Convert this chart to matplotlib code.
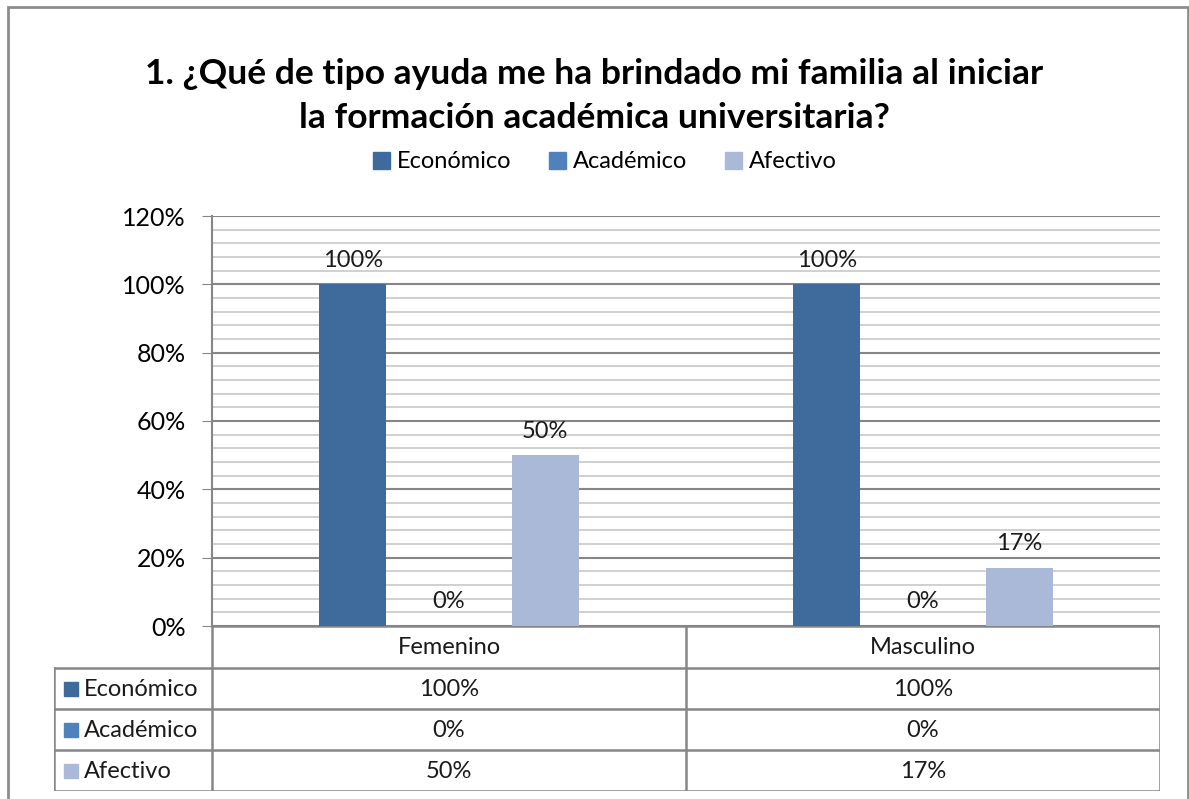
import matplotlib.pyplot as plt
import numpy as np
from matplotlib.patches import Rectangle

plt.rcParams['font.family'] = ['Lato', 'DejaVu Sans']

title = "1. ¿Qué de tipo ayuda me ha brindado mi familia al iniciar\nla formación académica universitaria?"
categories = ["Femenino", "Masculino"]
series = ["Económico", "Académico", "Afectivo"]
values = {
    "Económico": [100, 100],
    "Académico": [0, 0],
    "Afectivo": [50, 17],
}
colors = ["#3F6A9C", "#4F81BD", "#AAB9D7"]
yticks = [0, 20, 40, 60, 80, 100, 120]

W, H = 1189, 799
fig = plt.figure(figsize=(W / 100, H / 100), dpi=100)

def fx(px):
    return px / W

def fy(py):
    return 1 - py / H

# outer border of the chart area
fig.patches.append(Rectangle((fx(8), fy(806)), fx(1188) - fx(8), fy(7) - fy(806),
                             transform=fig.transFigure, fill=False,
                             edgecolor="#8C8C8C", linewidth=2))

ax_l, ax_r, ax_t, ax_b = 212, 1160, 216, 626
ax = fig.add_axes([fx(ax_l), fy(ax_b), fx(ax_r) - fx(ax_l), fy(ax_t) - fy(ax_b)])

fs = 17
x = np.arange(len(categories))
width = 0.142
offsets = [-0.203, 0.0, 0.203]
for s, c, off in zip(series, colors, offsets):
    bars = ax.bar(x + off, values[s], width, color=c, zorder=3)
    for b, v in zip(bars, values[s]):
        ax.text(b.get_x() + b.get_width() / 2, v + 4, f"{v}%", ha="center", va="bottom",
                fontsize=fs, color="#1A1A1A", zorder=4)

ax.set_xlim(-0.5, 1.5)
ax.set_ylim(0, 120)
ax.set_yticks(yticks)
ax.set_yticklabels([f"{t}%" for t in yticks], fontsize=fs + 1)
ax.set_yticks(np.arange(0, 121, 4), minor=True)
ax.tick_params(axis="y", which="major", length=7, color="#868686", pad=12)
ax.tick_params(axis="y", which="minor", length=0)
ax.set_xticks([])
ax.grid(axis="y", which="major", color="#868686", linewidth=1.5, zorder=1)
ax.grid(axis="y", which="minor", color="#C8C8C8", linewidth=1.2, zorder=1)
for sp in ["top", "right", "bottom"]:
    ax.spines[sp].set_visible(False)
ax.spines["left"].set_color("#868686")
ax.spines["left"].set_linewidth(1.5)

# data table under the axis
tax = fig.add_axes([fx(54), fy(791), fx(1160) - fx(54), fy(626) - fy(791)])
tax.set_xlim(54, 1160)
tax.set_ylim(791, 626)
tax.axis("off")
row_y = [626, 668, 709, 750, 791]
col_x = [212, 686, 1160]
lc = "#868686"
lw = 1.8
# header row
tax.plot([212, 1160], [626, 626], color=lc, lw=lw)
for y in row_y[1:]:
    tax.plot([54, 1160], [y, y], color=lc, lw=lw)
for xc in col_x:
    tax.plot([xc, xc], [626, 791], color=lc, lw=lw)
tax.plot([54, 54], [668, 791], color=lc, lw=lw)
for i, cat in enumerate(categories):
    tax.text((col_x[i] + col_x[i + 1]) / 2, (row_y[0] + row_y[1]) / 2 + 1, cat,
             ha="center", va="center", fontsize=fs, color="#1A1A1A")
for r, (s, c) in enumerate(zip(series, colors)):
    yc = (row_y[r + 1] + row_y[r + 2]) / 2
    tax.add_patch(Rectangle((64, yc - 7), 14, 14, color=c))
    tax.text(84, yc + 1, s, ha="left", va="center", fontsize=fs, color="#1A1A1A")
    for i in range(len(categories)):
        tax.text((col_x[i] + col_x[i + 1]) / 2, yc + 1, f"{values[s][i]}%",
                 ha="center", va="center", fontsize=fs, color="#1A1A1A")

fig.text(0.5, fy(96), title, ha="center", va="center", fontsize=25.5,
         fontweight="bold", linespacing=1.45, color="#000000")

handles = [Rectangle((0, 0), 1, 1, color=c) for c in colors]
fig.legend(handles, series, loc="center", bbox_to_anchor=(fx(605), fy(162)), ncol=3,
           frameon=False, fontsize=fs, handlelength=0.7, handleheight=0.7,
           handletextpad=0.3, columnspacing=1.6)

fig.savefig("out.png", dpi=100)
